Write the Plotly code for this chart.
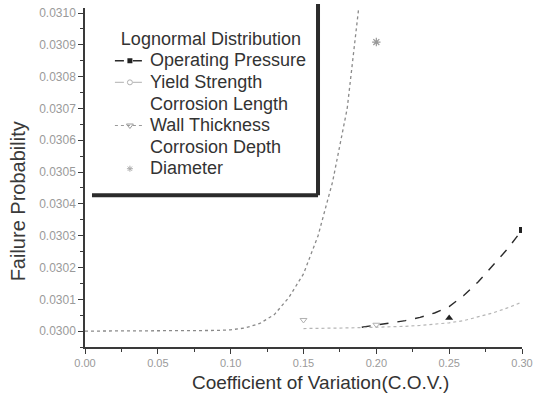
import plotly.graph_objects as go

# ---------------- data ----------------
cov = [round(0.01 * i, 2) for i in range(31)]

# steep curve (Wall Thickness)
wt_x = cov[:20]
wt_y = [0.030000, 0.030000, 0.030000, 0.030000, 0.030000, 0.030000, 0.030000,
        0.030000, 0.030001, 0.030002, 0.030004, 0.030010, 0.030024, 0.030052,
        0.030106, 0.030180, 0.030300, 0.030470, 0.030700, 0.031100]

# Operating Pressure
op_x = cov[19:]
op_y = [0.030012, 0.030019, 0.030026, 0.030033, 0.030043, 0.030057, 0.030077,
        0.030112, 0.030155, 0.030205, 0.030258, 0.030318]

# Yield Strength
ys_x = cov[15:]
ys_y = [0.030008, 0.030008, 0.030009, 0.030010, 0.030011, 0.030012, 0.030013,
        0.030015, 0.030018, 0.030022, 0.030026, 0.030033, 0.030045, 0.030057,
        0.030073, 0.030091]

# isolated markers
cl_x = [0.15, 0.20]
cl_y = [0.030035, 0.030020]
cd_x = [0.25]
cd_y = [0.030041]
dia_x = [0.20]
dia_y = [0.030909]

legend_names = ["Operating Pressure", "Yield Strength", "Corrosion Length",
                "Wall Thickness", "Corrosion Depth", "Diameter"]

y_ticks = [0.0300 + 0.0001 * i for i in range(11)]
x_ticks = [0.00, 0.05, 0.10, 0.15, 0.20, 0.25, 0.30]

FONT = "Liberation Sans, Arial, sans-serif"

fig = go.Figure()

# ---------------- plotted series ----------------
fig.add_trace(go.Scatter(x=wt_x, y=wt_y, mode="lines", showlegend=False,
                         line=dict(color="#8a8a8a", width=1.3, dash="dot")))
fig.add_trace(go.Scatter(x=op_x, y=op_y, mode="lines", showlegend=False,
                         line=dict(color="#2a2a2a", width=1.4, dash="dash")))
fig.add_trace(go.Scatter(x=op_x[-1:], y=op_y[-1:], mode="markers", showlegend=False,
                         marker=dict(symbol="square", size=6, color="#222")))
fig.add_trace(go.Scatter(x=ys_x, y=ys_y, mode="lines", showlegend=False,
                         line=dict(color="#b5b5b5", width=1.2, dash="dot")))
fig.add_trace(go.Scatter(x=cl_x, y=cl_y, mode="markers", showlegend=False,
                         marker=dict(symbol="triangle-down-open", size=6,
                                     color="#b0b0b0")))
fig.add_trace(go.Scatter(x=cd_x, y=cd_y, mode="markers", showlegend=False,
                         marker=dict(symbol="triangle-up", size=7, color="#222")))
fig.add_trace(go.Scatter(x=dia_x, y=dia_y, mode="markers", showlegend=False,
                         marker=dict(symbol="asterisk-open", size=7,
                                     color="#999", line=dict(width=1.2, color="#999"))))

# ---------------- legend entries ----------------
leg_styles = [
    dict(mode="lines+markers", line=dict(color="#2a2a2a", width=1.4, dash="dash"),
         marker=dict(symbol="square", size=5, color="#222")),
    dict(mode="lines+markers", line=dict(color="#c0c0c0", width=1.2, dash="dash"),
         marker=dict(symbol="circle-open", size=5, color="#b0b0b0")),
    dict(mode="lines", line=dict(color="rgba(0,0,0,0)", width=1)),
    dict(mode="lines+markers", line=dict(color="#9a9a9a", width=1.2, dash="dot"),
         marker=dict(symbol="triangle-down-open", size=6, color="#9a9a9a")),
    dict(mode="lines", line=dict(color="rgba(0,0,0,0)", width=1)),
    dict(mode="markers", marker=dict(symbol="asterisk-open", size=5, color="#aaa",
                                     line=dict(width=1, color="#aaa"))),
]
for name, st in zip(legend_names, leg_styles):
    fig.add_trace(go.Scatter(x=[None], y=[None],
                             name=f"<span style='font-size:18px'>{name}</span>",
                             **st))

# ---------------- legend frame (Origin style) ----------------
lx0, lx1, ly0, ly1 = 0.016, 0.5332, 0.448, 1.012
fig.add_shape(type="rect", xref="paper", yref="paper", x0=lx0, x1=lx1, y0=ly0, y1=ly1,
              fillcolor="white", line=dict(width=0), layer="above")
fig.add_shape(type="line", xref="paper", yref="paper", x0=lx1, x1=lx1, y0=ly0, y1=ly1,
              line=dict(color="#2b2b2b", width=4), layer="above")
fig.add_shape(type="line", xref="paper", yref="paper", x0=lx0, x1=lx1, y0=ly0, y1=ly0,
              line=dict(color="#2b2b2b", width=4), layer="above")

# axis titles placed like the original
fig.add_annotation(text="Failure Probability", xref="paper", yref="paper",
                   x=-0.153, y=0.43, xanchor="center", yanchor="middle",
                   textangle=-90, showarrow=False,
                   font=dict(family=FONT, size=20, color="#3a3a3a"))
fig.add_annotation(text="Coefficient of Variation(C.O.V.)", xref="paper", yref="paper",
                   x=0.538, y=-0.105, xanchor="center", yanchor="middle",
                   showarrow=False,
                   font=dict(family=FONT, size=19, color="#333"))

axis_common = dict(showline=True, linecolor="#3a3a3a", linewidth=1.5,
                   ticks="outside", ticklen=5, tickwidth=1.2, tickcolor="#3a3a3a",
                   showgrid=False, zeroline=False, mirror=False, automargin=False)

fig.update_layout(
    width=533, height=406,
    margin=dict(l=85, r=11, t=8, b=59, autoexpand=False),
    paper_bgcolor="white", plot_bgcolor="white",
    font=dict(family=FONT, color="#333"),
    showlegend=True,
    legend=dict(x=0.057, y=0.96, xanchor="left", yanchor="top",
                bgcolor="rgba(0,0,0,0)", borderwidth=0,
                font=dict(family=FONT, size=14.3, color="#333"),
                title=dict(text="Lognormal Distribution", side="top center",
                           font=dict(family=FONT, size=18, color="#333")),
                itemwidth=30),
    xaxis=dict(range=[0.0, 0.30], tickvals=x_ticks, tickformat=".2f",
               tickfont=dict(size=11, color="#9a9a9a"),
               minor=dict(ticks="outside", ticklen=3, dtick=0.025, tickcolor="#3a3a3a"),
               **axis_common),
    yaxis=dict(range=[0.02995, 0.031016], tickvals=y_ticks, tickformat=".4f",
               tickfont=dict(size=12, color="#9a9a9a"),
               minor=dict(ticks="outside", ticklen=3, dtick=0.00005, tickcolor="#3a3a3a"),
               **axis_common),
)

fig.write_html("out.html")
